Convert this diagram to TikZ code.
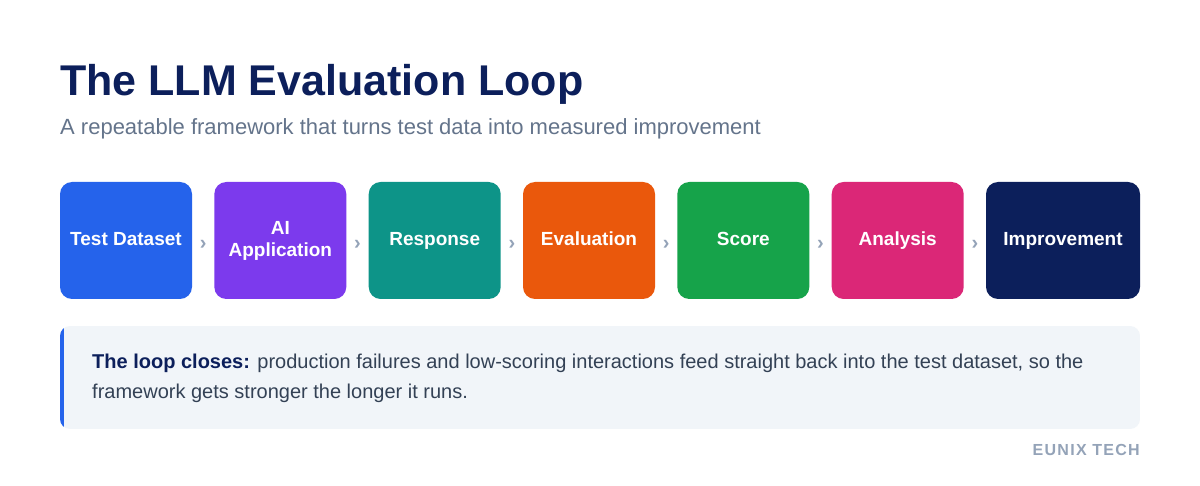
\documentclass[tikz,border=0pt]{standalone}
\usepackage{fontspec}
\setmainfont{Liberation Sans}
\newfontfamily\footfont[LetterSpace=8]{Liberation Sans}
\usepackage{tikz}
\usetikzlibrary{calc}
\definecolor{navy}{HTML}{0C1F5B}
\definecolor{slate}{HTML}{64748B}
\definecolor{bodytext}{HTML}{334155}
\definecolor{chevgray}{HTML}{94A3B8}
\definecolor{panel}{HTML}{F1F5F9}
\definecolor{c1}{HTML}{2563EB}
\definecolor{c2}{HTML}{7C3AED}
\definecolor{c3}{HTML}{0D9488}
\definecolor{c4}{HTML}{EA580C}
\definecolor{c5}{HTML}{16A34A}
\definecolor{c6}{HTML}{DB2777}
\definecolor{c7}{HTML}{0C1F5B}
\newcommand{\boxw}{132}
\newcommand{\boxh}{117}
\newcommand{\rowy}{240.5}
\tikzset{
  stepbox/.style={rectangle, rounded corners=12pt, text=white, align=center,
    minimum width=\boxw, minimum height=\boxh, inner sep=0pt,
    text height=15, text depth=4,
    font=\bfseries\fontsize{19}{22}\selectfont},
  chevron/.style={text=chevgray, font=\bfseries\fontsize{20}{20}\selectfont, inner sep=0pt, yshift=-4pt}
}

\begin{document}
\begin{tikzpicture}[x=1pt, y=-1pt]
\useasboundingbox[fill=white] (0,0) rectangle (1200,486);
\node[anchor=base west, text=navy, inner sep=0pt, font=\bfseries\fontsize{43}{43}\selectfont] (title) at (60,96) {The LLM Evaluation Loop};
\node[anchor=base west, text=slate, inner sep=0pt, font=\fontsize{22}{22}\selectfont] (subtitle) at (60,135) {A repeatable framework that turns test data into measured improvement};
%steps
\node[stepbox, fill=c1] (1) at (126.0, \rowy) {Test Dataset};
\node[stepbox, fill=c2, text height=37] (2) at (280.3, \rowy) {AI\\Application};
\node[stepbox, fill=c3] (3) at (434.7, \rowy) {Response};
\node[stepbox, fill=c4] (4) at (589.0, \rowy) {Evaluation};
\node[stepbox, fill=c5] (5) at (743.3, \rowy) {Score};
\node[stepbox, fill=c6] (6) at (897.7, \rowy) {Analysis};
\node[stepbox, fill=c7, minimum width=154] (7) at (1063.0, \rowy) {Improvement};
%chevrons
\node[chevron] (12) at ($(1.east)!0.5!(2.west)$) {›};
\node[chevron] (23) at ($(2.east)!0.5!(3.west)$) {›};
\node[chevron] (34) at ($(3.east)!0.5!(4.west)$) {›};
\node[chevron] (45) at ($(4.east)!0.5!(5.west)$) {›};
\node[chevron] (56) at ($(5.east)!0.5!(6.west)$) {›};
\node[chevron] (67) at ($(6.east)!0.5!(7.west)$) {›};
%callout
\begin{scope}
\clip[rounded corners=10pt] (60,326) rectangle (1140,429);
\fill[panel] (60,326) rectangle (1140,429);
\fill[c1] (60,326) rectangle (64,429);
\end{scope}
\node[anchor=base west, text=bodytext, align=left, inner sep=0pt, font=\fontsize{20}{30}\selectfont] (note) at (92,399)
  {\textcolor{navy}{\bfseries The loop closes:} production failures and low-scoring interactions feed straight back into the test dataset, so the\\framework gets stronger the longer it runs.};
\node[anchor=base east, text=chevgray, inner sep=0pt, font=\footfont\bfseries\fontsize{16}{16}\selectfont] (brand) at (1140,455) {EUNIX TECH};
\end{tikzpicture}
\end{document}
